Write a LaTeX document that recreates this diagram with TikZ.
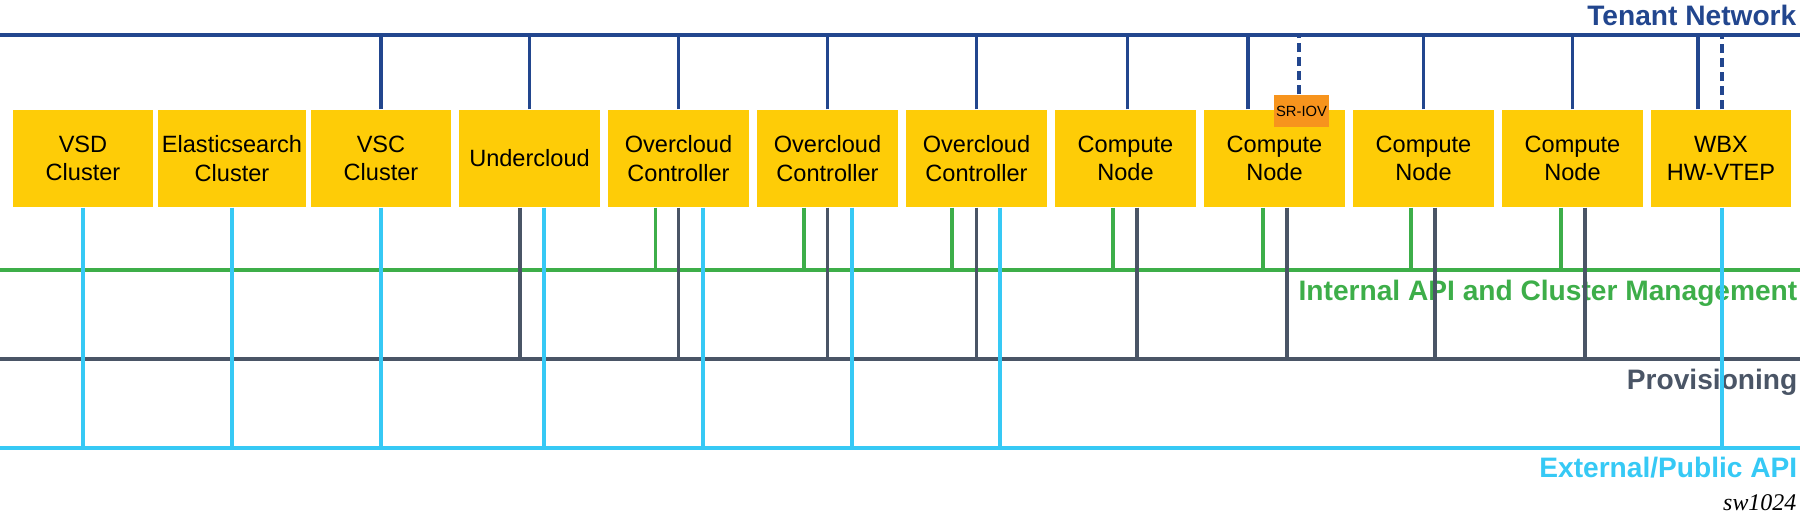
\documentclass[tikz,border=0pt]{standalone}
\usepackage{fontspec}
\setmainfont{Liberation Sans}
\newfontfamily\serifit{Liberation Serif}
\usepackage{xcolor}
\usetikzlibrary{calc}

\definecolor{NetBlue}{HTML}{22468E}
\definecolor{ApiGreen}{HTML}{3DAE49}
\definecolor{ProvGrey}{HTML}{4A5566}
\definecolor{PubCyan}{HTML}{36C9F5}
\definecolor{BoxYellow}{HTML}{FECC07}
\definecolor{SriovOrange}{HTML}{F7941D}

\begin{document}
\begin{tikzpicture}[x=0.01cm, y=-0.01cm,
	box/.style={fill=BoxYellow, minimum width=1.4cm, minimum height=0.97cm, inner sep=0pt, align=center, font=\fontsize{6.7}{8}\selectfont},
	sriovbox/.style={fill=SriovOrange, minimum width=0.55cm, minimum height=0.32cm, inner sep=0pt, font=\fontsize{4.2}{5}\selectfont},
	net/.style={line width=1.2pt},
	link/.style={line width=1pt},
	dashlink/.style={line width=1pt, dash pattern=on 2.6pt off 1.4pt},
	netlabel/.style={anchor=base east, inner sep=0pt, font=\fontsize{8}{9.6}\selectfont\bfseries}]

	\useasboundingbox (0,0) rectangle (1800,520);

	\coordinate (T0) at (0,35);
	\coordinate (T1) at (1800,35);
	\coordinate (I0) at (0,270);
	\coordinate (I1) at (1800,270);
	\coordinate (P0) at (0,359);
	\coordinate (P1) at (1800,359);
	\coordinate (E0) at (0,448);
	\coordinate (E1) at (1800,448);

	% networks
	\draw[net, NetBlue] (T0) -- (T1);
	\draw[net, ApiGreen] (I0) -- (I1);
	\draw[net, ProvGrey] (P0) -- (P1);
	\draw[net, PubCyan] (E0) -- (E1);

	\node[netlabel, NetBlue] (tenant) at (1797,25) {Tenant Network};
	\node[netlabel, ApiGreen] (internal) at (1798,300) {Internal API and Cluster Management};
	\node[netlabel, ProvGrey] (prov) at (1798,389) {Provisioning};
	\node[netlabel, PubCyan] (public) at (1798,477) {External/Public API};
	\node[anchor=base east, inner sep=0pt, font=\serifit\itshape\fontsize{6.8}{8}\selectfont] (fig) at (1797,510) {sw1024};

	% boxes
	\node[box] (vsd) at (83,158.5) {VSD\\Cluster};
	\node[box, minimum width=1.48cm] (es) at (232,158.5) {Elasticsearch\\Cluster};
	\node[box] (vsc) at (381,158.5) {VSC\\Cluster};
	\node[box] (uc) at (529.5,158.5) {Undercloud};
	\node[box] (oc1) at (678.5,158.5) {Overcloud\\Controller};
	\node[box] (oc2) at (827.5,158.5) {Overcloud\\Controller};
	\node[box] (oc3) at (976.5,158.5) {Overcloud\\Controller};
	\node[box] (cn1) at (1125.5,158.5) {Compute\\Node};
	\node[box] (cn2) at (1274.5,158.5) {Compute\\Node};
	\node[box] (cn3) at (1423.5,158.5) {Compute\\Node};
	\node[box] (cn4) at (1572.5,158.5) {Compute\\Node};
	\node[box, minimum width=1.39cm] (wbx) at (1721,158.5) {WBX\\HW-VTEP};
	\node[sriovbox] (sriov) at (1301.5,111) {SR-IOV};

	% tenant links
	\draw[link, NetBlue] (vsc.north) -- (vsc.north |- T0);
	\draw[link, NetBlue] (uc.north) -- (uc.north |- T0);
	\draw[link, NetBlue] (oc1.north) -- (oc1.north |- T0);
	\draw[link, NetBlue] (oc2.north) -- (oc2.north |- T0);
	\draw[link, NetBlue] (oc3.north) -- (oc3.north |- T0);
	\draw[link, NetBlue] ($(cn1.north)+(2,0)$) -- ($(cn1.north |- T0)+(2,0)$);
	\draw[link, NetBlue] ($(cn2.north)+(-26.5,0)$) -- ($(cn2.north |- T0)+(-26.5,0)$);
	\draw[dashlink, NetBlue] ($(sriov.north)+(-2.5,0)$) -- ($(sriov.north |- T0)+(-2.5,0)$);
	\draw[link, NetBlue] (cn3.north) -- (cn3.north |- T0);
	\draw[link, NetBlue] (cn4.north) -- (cn4.north |- T0);
	\draw[link, NetBlue] ($(wbx.north)+(-23,0)$) -- ($(wbx.north |- T0)+(-23,0)$);
	\draw[dashlink, NetBlue] ($(wbx.north)+(1,0)$) -- ($(wbx.north |- T0)+(1,0)$);

	% internal api links
	\draw[link, ApiGreen] ($(oc1.south)+(-23,0)$) -- ($(oc1.south |- I0)+(-23,0)$);
	\draw[link, ApiGreen] ($(oc2.south)+(-23.5,0)$) -- ($(oc2.south |- I0)+(-23.5,0)$);
	\draw[link, ApiGreen] ($(oc3.south)+(-24.5,0)$) -- ($(oc3.south |- I0)+(-24.5,0)$);
	\draw[link, ApiGreen] ($(cn1.south)+(-12.5,0)$) -- ($(cn1.south |- I0)+(-12.5,0)$);
	\draw[link, ApiGreen] ($(cn2.south)+(-11.5,0)$) -- ($(cn2.south |- I0)+(-11.5,0)$);
	\draw[link, ApiGreen] ($(cn3.south)+(-12.5,0)$) -- ($(cn3.south |- I0)+(-12.5,0)$);
	\draw[link, ApiGreen] ($(cn4.south)+(-11.5,0)$) -- ($(cn4.south |- I0)+(-11.5,0)$);

	% provisioning links
	\draw[link, ProvGrey] ($(uc.south)+(-9.5,0)$) -- ($(uc.south |- P0)+(-9.5,0)$);
	\draw[link, ProvGrey] (oc1.south) -- (oc1.south |- P0);
	\draw[link, ProvGrey] (oc2.south) -- (oc2.south |- P0);
	\draw[link, ProvGrey] (oc3.south) -- (oc3.south |- P0);
	\draw[link, ProvGrey] ($(cn1.south)+(11.5,0)$) -- ($(cn1.south |- P0)+(11.5,0)$);
	\draw[link, ProvGrey] ($(cn2.south)+(12.5,0)$) -- ($(cn2.south |- P0)+(12.5,0)$);
	\draw[link, ProvGrey] ($(cn3.south)+(11.5,0)$) -- ($(cn3.south |- P0)+(11.5,0)$);
	\draw[link, ProvGrey] ($(cn4.south)+(12.5,0)$) -- ($(cn4.south |- P0)+(12.5,0)$);

	% external links
	\draw[link, PubCyan] (vsd.south) -- (vsd.south |- E0);
	\draw[link, PubCyan] (es.south) -- (es.south |- E0);
	\draw[link, PubCyan] (vsc.south) -- (vsc.south |- E0);
	\draw[link, PubCyan] ($(uc.south)+(14.5,0)$) -- ($(uc.south |- E0)+(14.5,0)$);
	\draw[link, PubCyan] ($(oc1.south)+(24.5,0)$) -- ($(oc1.south |- E0)+(24.5,0)$);
	\draw[link, PubCyan] ($(oc2.south)+(24.5,0)$) -- ($(oc2.south |- E0)+(24.5,0)$);
	\draw[link, PubCyan] ($(oc3.south)+(23.5,0)$) -- ($(oc3.south |- E0)+(23.5,0)$);
	\draw[link, PubCyan] ($(wbx.south)+(1,0)$) -- ($(wbx.south |- E0)+(1,0)$);
\end{tikzpicture}
\end{document}
